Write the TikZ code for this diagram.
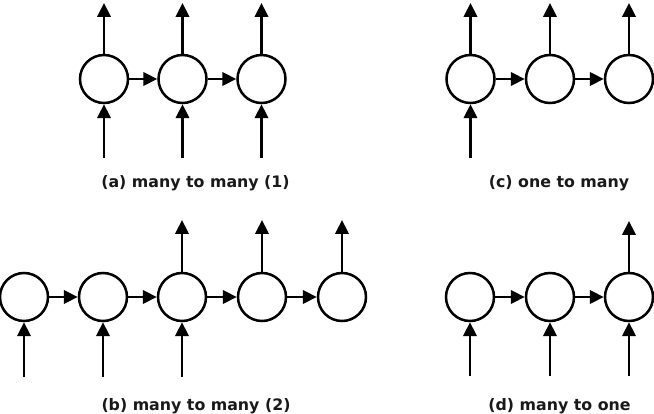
\documentclass[tikz,border=0pt]{standalone}
\usepackage{fontspec}
\setmainfont{DejaVu Sans}
\usetikzlibrary{arrows.meta}
\begin{document}
\begin{tikzpicture}[x=1pt,y=-1pt,
  cell/.style={circle,draw=black,line width=2.5pt,minimum size=48pt,inner sep=0pt,fill=white},
  conn/.style={line width=2.3pt,-{Triangle[length=14pt,width=13.5pt]}},
  lbl/.style={anchor=base,inner sep=0pt,font=\fontsize{15.8}{19}\selectfont\bfseries,text=black!90}]
\useasboundingbox (0,0) rectangle (654,414);
\fill[white] (0,0) rectangle (654,414);
% (a) many to many (1)
\foreach \n/\x in {a1/104,a2/182.5,a3/261.5}{
  \node[cell] (\n) at (\x,79) {};
  \coordinate (\n o) at (\x,3);
  \coordinate (\n i) at (\x,158);
}
\foreach \n in {a1,a2,a3}{
  \draw[conn] (\n.north) -- (\n o);
  \draw[conn] (\n i) -- (\n.south);
}
\draw[conn] (a1) -- (a2);
\draw[conn] (a2) -- (a3);
\node[lbl] (la) at (195.5,187.5) {(a) many to many (1)};
% (c) one to many
\foreach \n/\x in {c1/470.5,c2/550,c3/629}{
  \node[cell] (\n) at (\x,79) {};
  \coordinate (\n o) at (\x,3);
}
\foreach \n in {c1,c2,c3}{
  \draw[conn] (\n.north) -- (\n o);
}
\coordinate (c1i) at (470.5,158);
\draw[conn] (c1i) -- (c1.south);
\draw[conn] (c1) -- (c2);
\draw[conn] (c2) -- (c3);
\node[lbl] (lc) at (559,187.5) {(c) one to many};
% (b) many to many (2)
\foreach \n/\x in {b1/24,b2/103,b3/182,b4/262,b5/342}{
  \node[cell] (\n) at (\x,297) {};
  \coordinate (\n o) at (\x,220);
  \coordinate (\n i) at (\x,377);
}
\foreach \n in {b1,b2,b3}{
  \draw[conn] (\n i) -- (\n.south);
}
\foreach \n in {b3,b4,b5}{
  \draw[conn] (\n.north) -- (\n o);
}
\draw[conn] (b1) -- (b2);
\draw[conn] (b2) -- (b3);
\draw[conn] (b3) -- (b4);
\draw[conn] (b4) -- (b5);
\node[lbl] (lb) at (196,410) {(b) many to many (2)};
% (d) many to one
\foreach \n/\x in {d1/470,d2/550,d3/629}{
  \node[cell] (\n) at (\x,297) {};
  \coordinate (\n i) at (\x,376);
}
\foreach \n in {d1,d2,d3}{
  \draw[conn] (\n i) -- (\n.south);
}
\coordinate (d3o) at (629,221);
\draw[conn] (d3.north) -- (d3o);
\draw[conn] (d1) -- (d2);
\draw[conn] (d2) -- (d3);
\node[lbl] (ld) at (559.5,410) {(d) many to one};
\end{tikzpicture}
\end{document}
